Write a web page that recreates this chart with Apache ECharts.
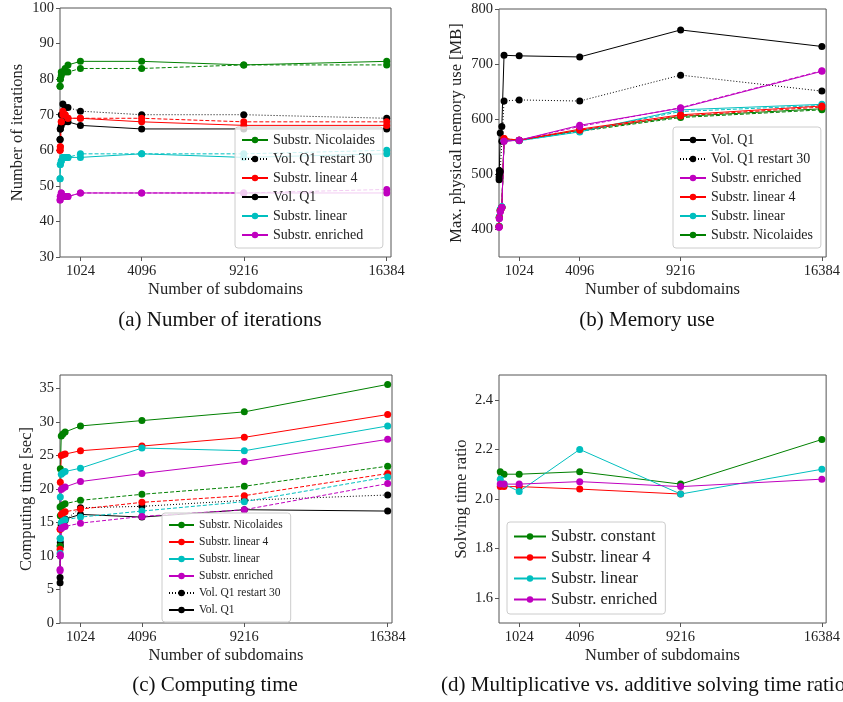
<!DOCTYPE html>
<html>
<head>
<meta charset="utf-8">
<script src="https://cdn.jsdelivr.net/npm/echarts@6/dist/echarts.min.js"></script>
<style>
  html, body { margin: 0; padding: 0; background: #fff; }
  #chart { width: 843px; height: 702px; }
</style>
</head>
<body>
<div id="chart"></div>
<script>
// x values shared by all panels
var subdomains = [4, 16, 64, 144, 256, 400, 1024, 4096, 9216, 16384];
var xTicks = [1024, 4096, 9216, 16384];

// (a) number of iterations
var itNicolaides     = [78, 80, 82, 82, 83, 84, 85, 85, 84, 85];
var itNicolaidesB    = [78, 80, 81, 82, 82, 82, 83, 83, 84, 84];
var itVolRestart     = [63, 66, 70, 73, 72, 72, 71, 70, 70, 69];
var itVol            = [63, 66, 67, 68, 68, 68, 67, 66, 66, 66];
var itLinear4        = [60, 61, 68, 71, 70, 69, 69, 68, 67, 67];
var itLinear4B       = [60, 61, 68, 70, 70, 69, 69, 69, 68, 68];
var itLinear         = [52, 56, 57, 58, 58, 58, 58, 59, 58, 59];
var itLinearB        = [52, 56, 57, 58, 58, 58, 59, 59, 59, 60];
var itEnriched       = [46, 47, 48, 47, 47, 47, 48, 48, 48, 48];
var itEnrichedB      = [46, 47, 48, 47, 47, 47, 48, 48, 48, 49];

// (b) memory use [MB]
var memVol           = [495, 507, 575, 587, 716, null, 715, 713, 762, 732];
var memVolRestart    = [490, 500, 505, 560, 633, null, 635, 633, 680, 651];
var memEnriched      = [404, 420, 432, 440, 560, null, 562, 589, 620, 687];
var memEnrichedB     = [404, 420, 432, 440, 560, null, 562, 587, 621, 688];
var memLinear4       = [405, 421, 434, 440, 565, null, 562, 582, 608, 624];
var memLinear4B      = [405, 421, 434, 440, 565, null, 562, 580, 606, 622];
var memLinear        = [406, 423, 436, 441, 562, null, 561, 577, 617, 627];
var memLinearB       = [406, 423, 436, 441, 562, null, 561, 578, 614, 625];
var memNicolaides    = [406, 422, 435, 440, 562, null, 562, 580, 605, 619];
var memNicolaidesB   = [406, 422, 435, 440, 562, null, 562, 578, 603, 617];

// (c) computing time [sec]
var tNicolaides      = [17.3, 23.0, 27.9, 28.2, 28.5, null, 29.4, 30.2, 31.5, 35.6];
var tNicolaidesB     = [11.5, 16.0, 17.4, 17.6, 17.8, null, 18.3, 19.2, 20.4, 23.4];
var tLinear4         = [14.0, 21.0, 25.0, 25.1, 25.2, null, 25.7, 26.4, 27.7, 31.1];
var tLinear4B        = [11.0, 14.0, 16.2, 16.4, 16.6, null, 17.0, 18.0, 19.0, 22.3];
var tLinear          = [12.6, 18.8, 22.2, 22.4, 22.6, null, 23.1, 26.1, 25.7, 29.4];
var tLinearB         = [10.4, 12.6, 15.0, 15.2, 15.4, null, 15.8, 16.7, 18.1, 21.8];
var tEnriched        = [8.0, 10.2, 19.9, 20.1, 20.3, null, 21.1, 22.3, 24.1, 27.4];
var tEnrichedB       = [7.8, 10.0, 14.1, 14.3, 14.4, null, 14.9, 15.9, 16.9, 20.8];
var tVolRestart      = [6.8, 12.0, 14.6, 15.0, 15.3, null, 17.2, 17.4, 18.3, 19.1];
var tVol             = [6.0, 11.5, 14.8, 15.2, 15.5, null, 16.2, 15.8, 16.9, 16.7];

// (d) solving time ratio
var rConstant        = [null, null, 2.11, null, 2.10, null, 2.10, 2.11, 2.06, 2.24];
var rLinear4         = [null, null, 2.05, null, 2.05, null, 2.05, 2.04, 2.02, null];
var rLinear          = [null, null, 2.08, null, 2.06, null, 2.03, 2.20, 2.02, 2.12];
var rEnriched        = [null, null, 2.06, null, 2.06, null, 2.06, 2.07, 2.05, 2.08];

var C = { g: '#008000', r: '#ff0000', c: '#00bfbf', m: '#bf00bf', k: '#000000' };
var FONT = 'Liberation Serif';
var AXIS = '#555';

function mkLine(name, idx, vals, color, dash) {
    return {
        type: 'line',
        name: name,
        xAxisIndex: idx,
        yAxisIndex: idx,
        data: subdomains.map(function (x, i) { return [x, vals[i]]; })
                        .filter(function (d) { return d[1] != null; }),
        symbol: 'circle',
        symbolSize: 7,
        color: color,
        lineStyle: { width: 1, color: color, type: dash || 'solid' },
        itemStyle: { color: color },
        emphasis: { disabled: true },
        animation: false
    };
}

var grids = [
    { left: 60, top: 8, width: 331, height: 249 },
    { left: 499, top: 9, width: 331, height: 248 },
    { left: 60, top: 375, width: 332, height: 248 },
    { left: 499, top: 375, width: 331, height: 248 }
];

function xAx(i) {
    return {
        type: 'value', gridIndex: i, min: 0, max: 16600,
        name: 'Number of subdomains', nameLocation: 'middle', nameGap: 24,
        nameTextStyle: { fontFamily: FONT, fontSize: 16.5, color: '#222' },
        axisLine: { show: false },
        splitLine: { show: false },
        axisTick: { show: true, length: 4, lineStyle: { color: AXIS }, customValues: xTicks },
        axisLabel: { fontFamily: FONT, fontSize: 14.5, color: '#222', margin: 7, customValues: xTicks,
                     formatter: function (v) { return String(v); } }
    };
}

function yAx(i, name, min, max, ticks, gap, fmt) {
    return {
        type: 'value', gridIndex: i, min: min, max: max,
        name: name, nameLocation: 'middle', nameGap: gap, nameRotate: 90,
        nameTextStyle: { fontFamily: FONT, fontSize: 16.5, color: '#222' },
        axisLine: { show: false },
        splitLine: { show: false },
        axisTick: { show: true, length: 4, lineStyle: { color: AXIS }, customValues: ticks },
        axisLabel: { fontFamily: FONT, fontSize: 14.5, color: '#222', margin: 6, customValues: ticks,
                     formatter: fmt || function (v) { return String(v); } }
    };
}

function legendBox(left, top, names, size, gap, w) {
    return {
        orient: 'vertical', left: left, top: top,
        data: names,
        itemWidth: w, itemHeight: 8, itemGap: gap,
        padding: [6, 8, 6, 6],
        backgroundColor: 'rgba(255,255,255,0.8)',
        borderColor: '#cccccc', borderWidth: 1, borderRadius: 3,
        textStyle: { fontFamily: FONT, fontSize: size, color: '#222' },
        selectedMode: false
    };
}

var series = [
    // (a)
    mkLine('Substr. Nicolaides', 0, itNicolaides, C.g),
    mkLine('Substr. Nicolaides B', 0, itNicolaidesB, C.g, [4, 2]),
    mkLine('Vol. Q1 restart 30', 0, itVolRestart, C.k, [1, 2]),
    mkLine('Vol. Q1', 0, itVol, C.k),
    mkLine('Substr. linear 4', 0, itLinear4, C.r),
    mkLine('Substr. linear 4 B', 0, itLinear4B, C.r, [4, 2]),
    mkLine('Substr. linear', 0, itLinear, C.c),
    mkLine('Substr. linear B', 0, itLinearB, C.c, [4, 2]),
    mkLine('Substr. enriched', 0, itEnriched, C.m),
    mkLine('Substr. enriched B', 0, itEnrichedB, C.m, [4, 2]),
    // (b)
    mkLine('Vol. Q1', 1, memVol, C.k),
    mkLine('Vol. Q1 restart 30', 1, memVolRestart, C.k, [1, 2]),
    mkLine('Substr. Nicolaides', 1, memNicolaides, C.g),
    mkLine('Substr. Nicolaides B', 1, memNicolaidesB, C.g, [4, 2]),
    mkLine('Substr. linear', 1, memLinear, C.c),
    mkLine('Substr. linear B', 1, memLinearB, C.c, [4, 2]),
    mkLine('Substr. linear 4', 1, memLinear4, C.r),
    mkLine('Substr. linear 4 B', 1, memLinear4B, C.r, [4, 2]),
    mkLine('Substr. enriched', 1, memEnriched, C.m),
    mkLine('Substr. enriched B', 1, memEnrichedB, C.m, [4, 2]),
    // (c)
    mkLine('Vol. Q1', 2, tVol, C.k),
    mkLine('Vol. Q1 restart 30', 2, tVolRestart, C.k, [1, 2]),
    mkLine('Substr. Nicolaides', 2, tNicolaides, C.g),
    mkLine('Substr. Nicolaides B', 2, tNicolaidesB, C.g, [4, 2]),
    mkLine('Substr. linear 4', 2, tLinear4, C.r),
    mkLine('Substr. linear 4 B', 2, tLinear4B, C.r, [4, 2]),
    mkLine('Substr. linear', 2, tLinear, C.c),
    mkLine('Substr. linear B', 2, tLinearB, C.c, [4, 2]),
    mkLine('Substr. enriched', 2, tEnriched, C.m),
    mkLine('Substr. enriched B', 2, tEnrichedB, C.m, [4, 2]),
    // (d)
    mkLine('Substr. constant', 3, rConstant, C.g),
    mkLine('Substr. linear 4', 3, rLinear4, C.r),
    mkLine('Substr. linear', 3, rLinear, C.c),
    mkLine('Substr. enriched', 3, rEnriched, C.m)
];

var captions = [
    { x: 220, y: 320, text: '(a) Number of iterations', align: 'center' },
    { x: 647, y: 320, text: '(b) Memory use', align: 'center' },
    { x: 215, y: 685, text: '(c) Computing time', align: 'center' },
    { x: 441, y: 685, text: '(d) Multiplicative vs. additive solving time ratio', align: 'left' }
];

var dom = document.getElementById('chart');
var myChart = echarts.init(dom, null, { renderer: 'canvas' });
myChart.setOption({
    animation: false,
    grid: grids.map(function (g) {
        return Object.assign({ show: true, borderColor: AXIS, borderWidth: 1, backgroundColor: 'transparent' }, g);
    }),
    xAxis: [xAx(0), xAx(1), xAx(2), xAx(3)],
    yAxis: [
        yAx(0, 'Number of iterations', 30, 100, [30, 40, 50, 60, 70, 80, 90, 100], 34),
        yAx(1, 'Max. physical memory use [MB]', 350, 800, [400, 500, 600, 700, 800], 34),
        yAx(2, 'Computing time [sec]', 0, 37, [0, 5, 10, 15, 20, 25, 30, 35], 24),
        yAx(3, 'Solving time ratio', 1.5, 2.5, [1.6, 1.8, 2.0, 2.2, 2.4], 29,
            function (v) { return v.toFixed(1); })
    ],
    legend: [
        legendBox(235, 127, ['Substr. Nicolaides', 'Vol. Q1 restart 30', 'Substr. linear 4',
                             'Vol. Q1', 'Substr. linear', 'Substr. enriched'], 14, 5, 26),
        legendBox(673, 127, ['Vol. Q1', 'Vol. Q1 restart 30', 'Substr. enriched',
                             'Substr. linear 4', 'Substr. linear', 'Substr. Nicolaides'], 14, 5, 26),
        legendBox(162, 513, ['Substr. Nicolaides', 'Substr. linear 4', 'Substr. linear',
                             'Substr. enriched', 'Vol. Q1 restart 30', 'Vol. Q1'], 11.5, 5, 25),
        legendBox(507, 522, ['Substr. constant', 'Substr. linear 4', 'Substr. linear',
                             'Substr. enriched'], 16.5, 4, 32)
    ],
    graphic: captions.map(function (c) {
        return {
            type: 'text', x: c.x, y: c.y,
            style: { text: c.text, fontFamily: FONT, fontSize: 21, fill: '#111',
                     textAlign: c.align, textVerticalAlign: 'middle' }
        };
    }),
    series: series
});
window.addEventListener('resize', function () {
    myChart.resize();
});
</script>
</body>
</html>
